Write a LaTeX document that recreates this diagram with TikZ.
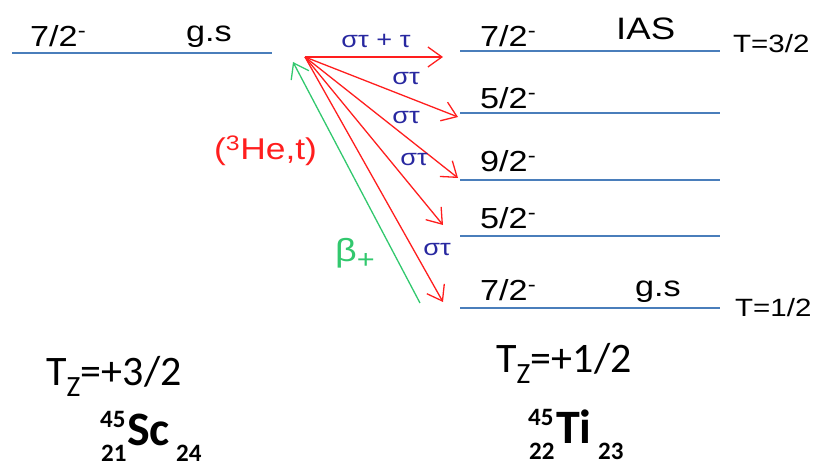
\documentclass[tikz,border=0pt]{standalone}
\usepackage{fontspec}
\setmainfont[FakeStretch=1.18]{Liberation Sans}
\newfontfamily\calib{Carlito}
\usetikzlibrary{arrows.meta}
\definecolor{lvl}{RGB}{74,126,187}
\definecolor{rd}{RGB}{255,30,30}
\definecolor{gr}{RGB}{50,200,110}
\definecolor{bl}{RGB}{40,40,160}
\begin{document}
\begin{tikzpicture}[x=1pt,y=-1pt,
  level/.style={draw=lvl,line width=1.3pt},
  lab/.style={anchor=base west,inner sep=0pt,font=\fontsize{29}{30}\selectfont},
  tlab/.style={anchor=base west,inner sep=0pt,font=\fontsize{25}{26}\selectfont},
  sig/.style={inner sep=0pt,text=bl,font=\fontsize{23}{24}\selectfont},
  tz/.style={anchor=base west,inner sep=0pt,font=\calib\fontsize{42}{44}\selectfont},
  nucbig/.style={anchor=base west,inner sep=0pt,font=\calib\bfseries\fontsize{48}{50}\selectfont},
  nucsmall/.style={anchor=base west,inner sep=0pt,font=\calib\bfseries\fontsize{25}{26}\selectfont},
  arr/.style={line width=1.3pt,-{Straight Barb[length=14pt,width=20pt,line width=1.3pt]}},
]
\useasboundingbox (0,0) rectangle (815,470);
% levels
\draw[level] (12,53) -- (272,53);
\draw[level] (460,51) -- (720,51);
\draw[level] (460,113) -- (720,113);
\draw[level] (460,180) -- (720,180);
\draw[level] (460,236) -- (720,236);
\draw[level] (460,308) -- (720,308);
% level labels
\node[lab] (l0) at (30,47) {7/2\textsuperscript{-}};
\node[lab] (gs0) at (186,42) {g.s};
\node[lab] (r1) at (480,47) {7/2\textsuperscript{-}};
\node[lab] (r2) at (480,109) {5/2\textsuperscript{-}};
\node[lab] (r3) at (480,172) {9/2\textsuperscript{-}};
\node[lab] (r4) at (480,229) {5/2\textsuperscript{-}};
\node[lab] (r5) at (480,301) {7/2\textsuperscript{-}};
\node[lab,font=\fontsize{31}{32}\selectfont] (ias) at (616,40) {IAS};
\node[lab] (gs1) at (635,297) {g.s};
\node[tlab] (T32) at (733,53) {T=3/2};
\node[tlab] (T12) at (735,317) {T=1/2};
% arrows
\coordinate (src) at (305,57);
\coordinate (t1) at (443,57);
\coordinate (t2) at (458,117);
\coordinate (t3) at (458,178);
\coordinate (t4) at (443,225);
\coordinate (t5) at (443,302);
\coordinate (gstart) at (420,303);
\coordinate (gtip) at (293,62);
\draw[arr,rd] (src) -- (t1);
\draw[arr,rd] (src) -- (t2);
\draw[arr,rd] (src) -- (t3);
\draw[arr,rd] (src) -- (t4);
\draw[arr,rd] (src) -- (t5);
\draw[arr,gr] (gstart) -- (gtip);
% transition labels
\node[sig] (s0) at (376,41) {στ\,\,+\,\,τ};
\node[sig] (s1) at (406,79) {στ};
\node[sig] (s2) at (406,118) {στ};
\node[sig] (s3) at (414,160) {στ};
\node[sig] (s4) at (437,250) {στ};
\node[inner sep=0pt,anchor=base west,text=rd,font=\fontsize{30}{31}\selectfont] (he) at (214,160) {(\textsuperscript{3}He,t)};
\node[inner sep=0pt,anchor=base west,text=gr,font=\fontsize{32}{33}\selectfont] (beta) at (335,262) {β\raisebox{-7pt}{\fontsize{26}{27}\selectfont +}};
% isospin projections
\node[tz] (tz1) at (46,386) {T\textsubscript{Z}=+3/2};
\node[tz] (tz2) at (496,373) {T\textsubscript{Z}=+1/2};
% nuclides
\node[nucsmall] (sc45) at (100,428) {45};
\node[nucsmall] (sc21) at (101,462) {21};
\node[nucbig] (sc) at (127,446) {Sc};
\node[nucsmall] (sc24) at (176,462) {24};
\node[nucsmall] (ti45) at (528,426) {45};
\node[nucsmall] (ti22) at (529,460) {22};
\node[nucbig] (ti) at (556,444) {Ti};
\node[nucsmall] (ti23) at (598,460) {23};
\end{tikzpicture}
\end{document}
